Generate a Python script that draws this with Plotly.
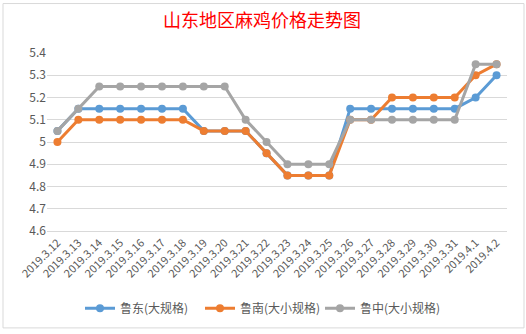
import plotly.graph_objects as go

categories = ["2019.3.12", "2019.3.13", "2019.3.14", "2019.3.15", "2019.3.16", "2019.3.17",
              "2019.3.18", "2019.3.19", "2019.3.20", "2019.3.21", "2019.3.22", "2019.3.23",
              "2019.3.24", "2019.3.25", "2019.3.26", "2019.3.27", "2019.3.28", "2019.3.29",
              "2019.3.30", "2019.3.31", "2019.4.1", "2019.4.2"]

ludong = [5.05, 5.15, 5.15, 5.15, 5.15, 5.15, 5.15, 5.05, 5.05, 5.05, 4.95, 4.85,
          4.85, 4.85, 5.15, 5.15, 5.15, 5.15, 5.15, 5.15, 5.2, 5.3]
lunan = [5.0, 5.1, 5.1, 5.1, 5.1, 5.1, 5.1, 5.05, 5.05, 5.05, 4.95, 4.85,
         4.85, 4.85, 5.1, 5.1, 5.2, 5.2, 5.2, 5.2, 5.3, 5.35]
luzhong = [5.05, 5.15, 5.25, 5.25, 5.25, 5.25, 5.25, 5.25, 5.25, 5.1, 5.0, 4.9,
           4.9, 4.9, 5.1, 5.1, 5.1, 5.1, 5.1, 5.1, 5.35, 5.35]

series_names = ["鲁东(大规格)", "鲁南(大小规格)", "鲁中(大小规格)"]
series_colors = ["#5B9BD5", "#ED7D31", "#A5A5A5"]

y_ticks = [4.6, 4.7, 4.8, 4.9, 5.0, 5.1, 5.2, 5.3, 5.4]
y_ticktext = ["4.6", "4.7", "4.8", "4.9", "5", "5.1", "5.2", "5.3", "5.4"]

FONT = "Noto Sans CJK SC"
TXT = "#595959"

fig = go.Figure()
for name, vals, col in zip(series_names, [ludong, lunan, luzhong], series_colors):
    fig.add_trace(go.Scatter(
        x=categories, y=vals, name=name, mode="lines+markers",
        line=dict(color=col, width=3),
        marker=dict(color=col, size=8, symbol="circle"),
    ))

# plot area: x 47..507, y 53..233
L, R, T, B = 47, 19, 53, 101
W, H = 526, 334
pw, ph = W - L - R, H - T - B

def px(x):
    return (x - L) / pw

def py(y):
    return (H - B - y) / ph

fig.add_shape(type="rect", xref="paper", yref="paper",
              x0=px(3), x1=px(524), y0=py(331), y1=py(3),
              line=dict(color="#D9D9D9", width=1), layer="below")

fig.update_layout(
    width=W, height=H,
    margin=dict(l=L, r=R, t=T, b=B),
    paper_bgcolor="white", plot_bgcolor="white",
    font=dict(family=FONT, color=TXT, size=11),
    title=dict(text="山东地区麻鸡价格走势图", xref="paper", x=px(262), xanchor="center",
               yref="container", y=1 - 21 / H, yanchor="middle",
               font=dict(family=FONT, size=18, color="#FF0000")),
    showlegend=True,
    legend=dict(orientation="h", x=px(260), xanchor="center", y=py(311), yanchor="middle",
                font=dict(family=FONT, size=12, color=TXT), itemwidth=30,
                entrywidth=75, entrywidthmode="pixels",
                tracegroupgap=0, bgcolor="rgba(0,0,0,0)"),
    xaxis=dict(type="category", range=[-0.5, len(categories) - 0.5],
               tickangle=-45, showgrid=False, showline=True, linecolor="#D9D9D9",
               linewidth=1, ticks="", tickfont=dict(family=FONT, size=11, color=TXT),
               fixedrange=True),
    yaxis=dict(range=[4.6, 5.4], tickvals=y_ticks, ticktext=y_ticktext,
               showgrid=True, gridcolor="#D9D9D9", gridwidth=1, zeroline=False,
               showline=False, ticks="", tickfont=dict(family=FONT, size=12, color=TXT),
               fixedrange=True),
)

fig.write_html("out.html")
